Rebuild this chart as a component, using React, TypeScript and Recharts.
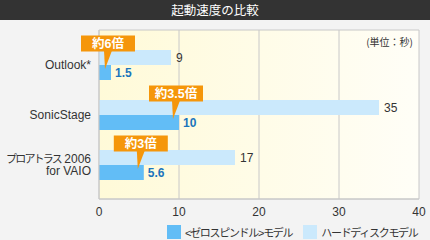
import {
  BarChart,
  Bar,
  XAxis,
  YAxis,
  CartesianGrid,
  LabelList,
  Legend,
} from "recharts";

const categories = ["Outlook*", "SonicStage", "プロアトラス 2006\nfor VAIO"];
const hddSeconds = [9, 35, 17];
const zeroSpindleSeconds = [1.5, 10, 5.6];
const speedupLabels = ["約6倍", "約3.5倍", "約3倍"];
const xTicks = [0, 10, 20, 30, 40];

const title = "起動速度の比較";
const unitLabel = "(単位：秒)";
const zeroName = "<ゼロスピンドル>モデル";
const hddName = "ハードディスクモデル";

const data = categories.map((name, i) => ({
  name,
  hdd: hddSeconds[i],
  zero: zeroSpindleSeconds[i],
  speedup: speedupLabels[i],
}));

const FONT = "'Liberation Sans', 'Noto Sans CJK JP', sans-serif";
const DARK = "#62bdf6";
const LIGHT = "#cbe9fc";
const ORANGE = "#f5960a";
const GRID = "#c8c8c8";

// kana in the original is set narrower than the latin text
const splitRuns = (s: string) => s.match(/[\u3000-\u9fff]+|[^\u3000-\u9fff]+/g) || [s];
const isCjk = (s: string) => /[\u3000-\u9fff]/.test(s);

const CategoryTick = (props: any) => {
  const { x, y, payload } = props;
  const lines = String(payload.value).split("\n");
  const lh = 12.5;
  const first = -((lines.length - 1) * lh) / 2;
  return (
    <text x={x} y={y} textAnchor="end" fontSize={12} fill="#333" fontFamily={FONT}>
      {lines.map((l, i) => (
        <tspan key={i} x={x} dy={i === 0 ? first + 4 : lh}>
          {splitRuns(l).map((r, j) =>
            isCjk(r) ? (
              <tspan key={j} fontSize={11} letterSpacing={-1.8}>
                {r}
              </tspan>
            ) : (
              <tspan key={j}>{r}</tspan>
            )
          )}
        </tspan>
      ))}
    </text>
  );
};

const Callout = (props: any) => {
  const { x, y, width, value } = props;
  const end = Number(x) + Number(width);
  const tipX = end - 6;
  const tipY = Number(y) + 4;
  const boxW = 54;
  const boxH = 16;
  const cx = tipX + 3;
  const boxTop = Number(y) - 29.5;
  const boxBottom = boxTop + boxH;
  return (
    <g>
      <rect x={cx - boxW / 2} y={boxTop} width={boxW} height={boxH} fill={ORANGE} />
      <path
        d={`M${tipX - 1},${boxBottom - 1} L${tipX + 7},${boxBottom - 1} L${tipX},${tipY} Z`}
        fill={ORANGE}
      />
      <text
        x={cx}
        y={boxTop + boxH / 2}
        dy="0.36em"
        textAnchor="middle"
        fill="#fff"
        fontSize={12.5}
        fontWeight="bold"
        fontFamily={FONT}
      >
        {value}
      </text>
    </g>
  );
};

const LegendContent = () => (
  <div
    style={{
      display: "flex",
      alignItems: "center",
      fontSize: 11,
      letterSpacing: -1.3,
      color: "#333",
      fontFamily: FONT,
      whiteSpace: "nowrap",
    }}
  >
    <span style={{ width: 14, height: 14, background: DARK, display: "inline-block", marginRight: 4 }} />
    <span style={{ marginRight: 11 }}>{zeroName}</span>
    <span style={{ width: 14, height: 14, background: LIGHT, display: "inline-block", marginRight: 4 }} />
    <span>{hddName}</span>
  </div>
);

export default function App() {
  return (
    <div
      style={{
        position: "absolute",
        left: 0,
        top: 0,
        width: 430,
        height: 240,
        background: "#f3f3f3",
        fontFamily: FONT,
        overflow: "hidden",
      }}
    >
      <div
        style={{
          position: "absolute",
          left: 0,
          top: 0,
          width: 430,
          height: 20,
          background: "#333",
          color: "#fff",
          fontSize: 12.5,
          lineHeight: "20px",
          textAlign: "center",
          fontFamily: "'Noto Sans CJK JP', sans-serif",
          zIndex: 2,
        }}
      >
        {title}
      </div>
      <div
        style={{
          position: "absolute",
          right: 17,
          top: 34,
          fontSize: 10,
          color: "#333",
          zIndex: 2,
          fontFamily: "'Noto Sans CJK JP', sans-serif",
        }}
      >
        {unitLabel}
      </div>
      <BarChart
        width={430}
        height={240}
        data={data}
        layout="vertical"
        margin={{ top: 30, right: 11, bottom: 11, left: 0 }}
        barGap={0}
      >
        <defs>
          <linearGradient id="plotBg" x1="0" y1="0" x2="1" y2="0">
            <stop offset="0%" stopColor="#fffad8" />
            <stop offset="100%" stopColor="#fffef7" />
          </linearGradient>
        </defs>
        <CartesianGrid
          stroke={GRID}
          fill="url(#plotBg)"
          fillOpacity={1}
          horizontalCoordinatesGenerator={({ offset }: any) => [
            offset.top,
            offset.top + offset.height,
          ]}
        />
        <XAxis
          type="number"
          domain={[0, 40]}
          ticks={xTicks}
          height={30}
          axisLine={{ stroke: GRID }}
          tickLine={false}
          tick={{ fontSize: 12, fill: "#333", fontFamily: FONT }}
        />
        <YAxis
          type="category"
          dataKey="name"
          width={99}
          padding={{ top: 10, bottom: 9 }}
          axisLine={{ stroke: GRID }}
          tickLine={false}
          tick={<CategoryTick />}
        />
        <Legend
          verticalAlign="middle"
          align="center"
          layout="horizontal"
          wrapperStyle={{ top: 224, left: 167, width: "auto" }}
          content={<LegendContent />}
        />
        <Bar dataKey="hdd" fill={LIGHT} barSize={15} isAnimationActive={false}>
          <LabelList dataKey="hdd" position="right" offset={5} fill="#333" fontSize={12} fontFamily={FONT} />
        </Bar>
        <Bar dataKey="zero" fill={DARK} barSize={15} isAnimationActive={false}>
          <LabelList
            dataKey="zero"
            position="right"
            offset={4}
            fill="#1b75bc"
            fontSize={12}
            fontWeight="bold"
            fontFamily={FONT}
          />
          <LabelList dataKey="speedup" content={<Callout />} />
        </Bar>
      </BarChart>
    </div>
  );
}
